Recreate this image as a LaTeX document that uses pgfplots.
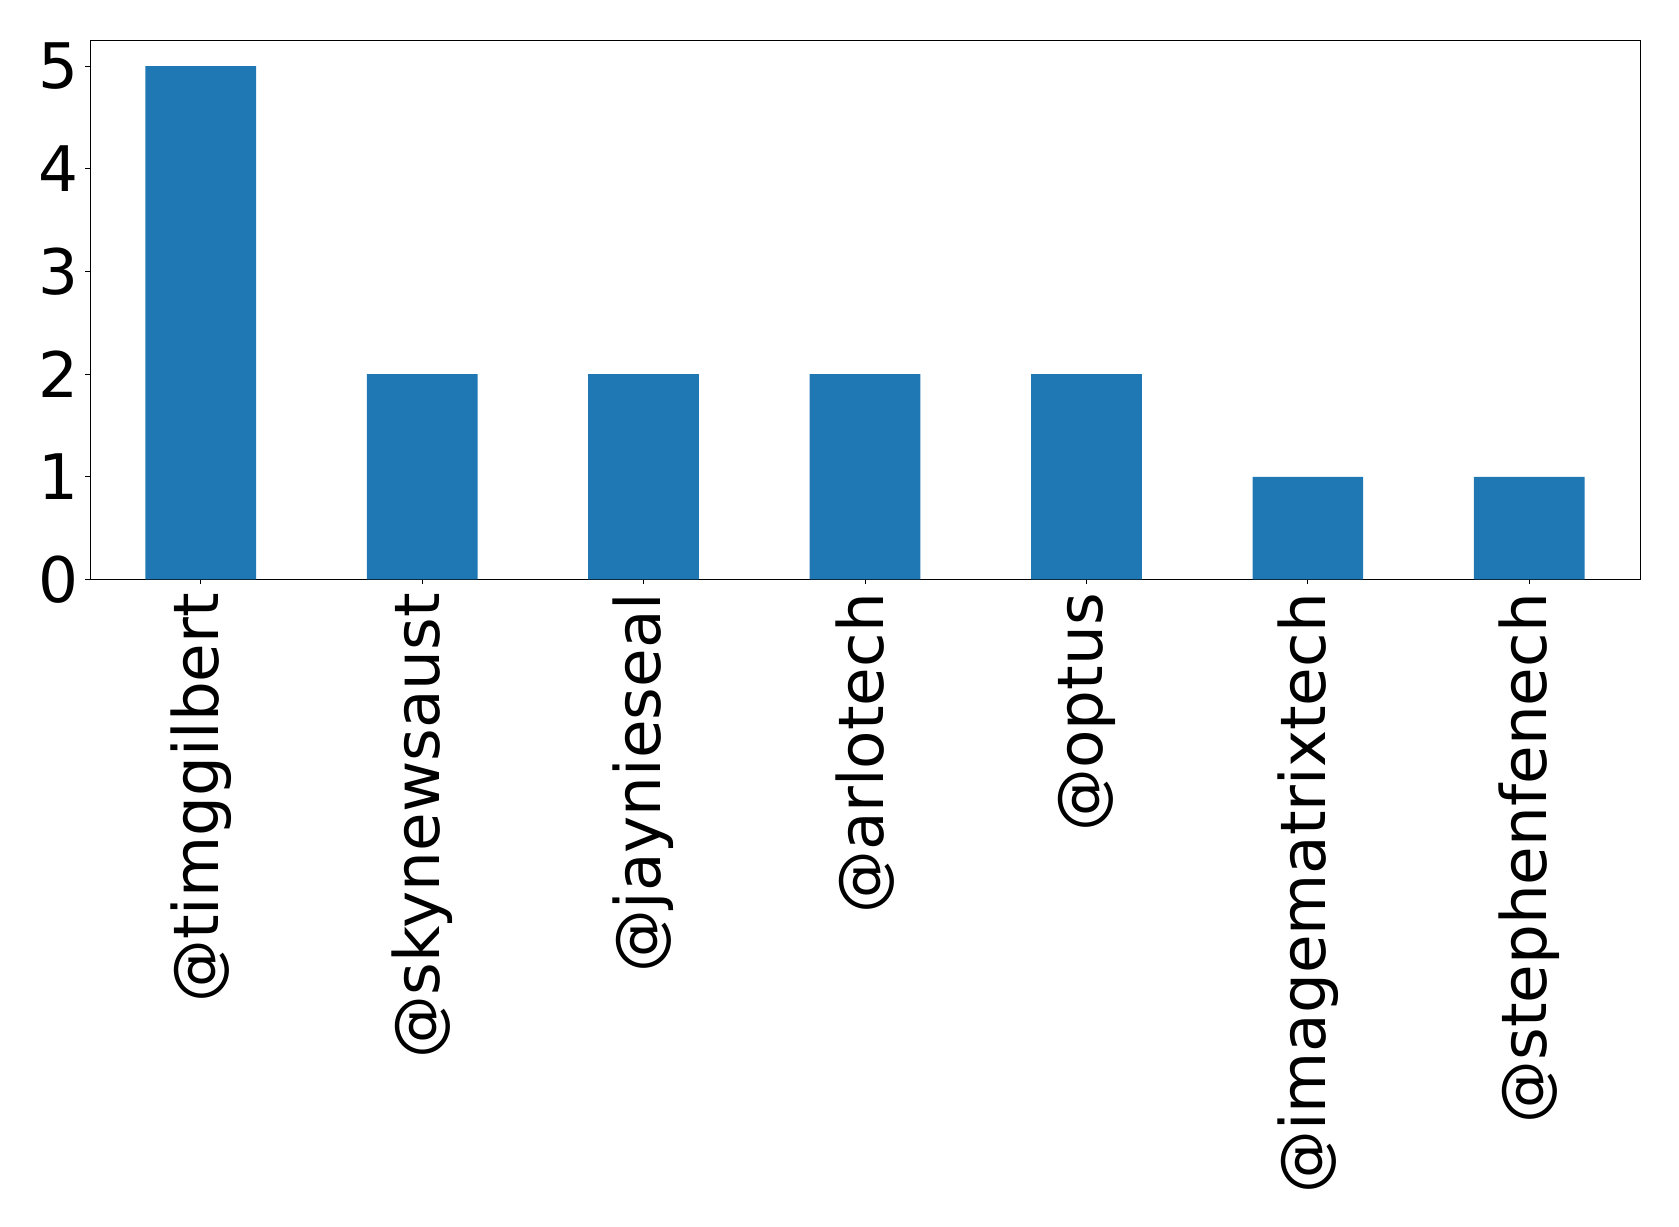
\documentclass[border=0pt]{standalone}
\usepackage{fontspec}
\setmainfont{DejaVu Sans}
\usepackage{pgfplots}
\pgfplotsset{compat=1.18}
\definecolor{mplblue}{HTML}{1F77B4}
\begin{document}
\begin{tikzpicture}
\begin{axis}[
    name=main,
    width=387.5pt, height=134.75pt,
    scale only axis,
    xmin=-0.5, xmax=6.5,
    ymin=0, ymax=5.25,
    xtick={0,1,2,3,4,5,6},
    xticklabels={@timggilbert,@skynewsaust,@jaynieseal,@arlotech,@optus,@imagematrixtech,@stephenfenech},
    ytick={0,1,2,3,4,5},
    /pgf/number format/assume math mode=true,
    tick label style={font=\fontsize{15.7}{18}\selectfont},
    xticklabel style={rotate=90, anchor=east, inner sep=0pt, xshift=-2pt},
    yticklabel style={anchor=east, inner sep=0pt, xshift=-1.4pt},
    tick align=outside,
    major tick length=1.2pt,
    tick style={black, line width=0.25pt},
    axis line style={line width=0.25pt},
    xtick pos=bottom, ytick pos=left,
]
\addplot[ybar, bar width=0.5, fill=mplblue, draw=none, bar shift=0pt]
  coordinates {(0,5) (1,2) (2,2) (3,2) (4,2) (5,1) (6,1)};
\end{axis}
\path ([shift={(-22.5pt,-161.7pt)}]main.south west) rectangle ([shift={(9.75pt,10.1pt)}]main.north east);
\end{tikzpicture}
\end{document}
